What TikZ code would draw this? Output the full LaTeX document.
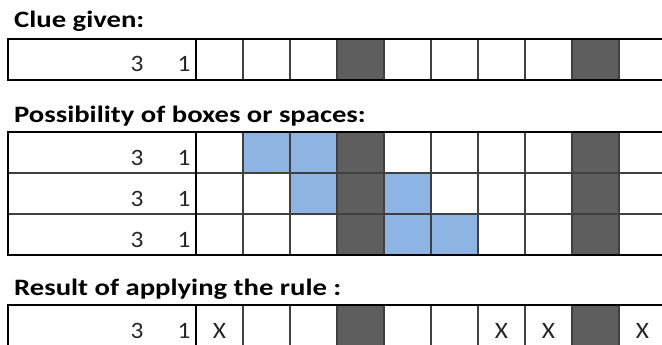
\documentclass[tikz,border=0pt]{standalone}
\usepackage{fontspec}
\setmainfont{Carlito}
\definecolor{darkcell}{HTML}{5E5E5E}
\definecolor{bluecell}{HTML}{8DB4E2}
\definecolor{numgray}{HTML}{262626}
\newcommand{\ttl}[1]{\scalebox{1.22}[1]{\fontsize{23.5}{24}\selectfont\bfseries #1}}
\newcommand{\nm}[1]{\scalebox{1.08}[1]{\fontsize{23.5}{24}\selectfont #1}}
\begin{document}
\begin{tikzpicture}[x=1pt,y=-1pt,
  title/.style={anchor=base west,inner sep=0pt},
  num/.style={anchor=base,inner sep=0pt,text=numgray},
  inner/.style={draw=black!75,line width=1.2pt},
  outer/.style={draw=black,line width=2.2pt}]
\useasboundingbox (0,0) rectangle (662,345);
\clip (0,0) rectangle (662,345);
% titles
\node[title] (t1) at (14,28) {\ttl{Clue given:}};
\node[title] (t2) at (14,122) {\ttl{Possibility of boxes or spaces:}};
\node[title] (t3) at (14,295) {\ttl{Result of applying the rule :}};
% ---- fills ----
\foreach \c in {3,8}{\fill[darkcell] ({196+47*\c},39) rectangle ({243+47*\c},80);}
\foreach \r in {0,1,2}{\foreach \c in {3,8}{\fill[darkcell] ({196+47*\c},{132+41*\r}) rectangle ({243+47*\c},{173+41*\r});}}
\fill[bluecell] (243,132) rectangle (337,173);
\fill[bluecell] (290,173) rectangle (337,214);
\fill[bluecell] (384,173) rectangle (431,214);
\fill[bluecell] (384,214) rectangle (478,255);
\foreach \c in {3,8}{\fill[darkcell] ({196+47*\c},305) rectangle ({243+47*\c},346);}
% ---- grid lines ----
\foreach \c in {1,...,9}{\draw[inner] ({196+47*\c},39) -- ({196+47*\c},80);}
\draw[outer] (8,39) rectangle (666,80);
\draw[outer] (196,39) -- (196,80);
\foreach \c in {1,...,9}{\draw[inner] ({196+47*\c},132) -- ({196+47*\c},255);}
\draw[draw=black!75,line width=2pt] (8,173) -- (666,173) (8,214) -- (666,214);
\draw[outer] (8,132) rectangle (666,255);
\draw[outer] (196,132) -- (196,255);
\foreach \c in {1,...,9}{\draw[inner] ({196+47*\c},305) -- ({196+47*\c},346);}
\draw[outer] (8,305) rectangle (666,346);
\draw[outer] (196,305) -- (196,346);
% ---- clue numbers ----
\node[num] (a3) at (137,72) {\nm{3}};
\node[num] (a1) at (184,72) {\nm{1}};
\foreach \r in {0,1,2}{
  \node[num] (b3\r) at (137,{165+41*\r}) {\nm{3}};
  \node[num] (b1\r) at (184,{165+41*\r}) {\nm{1}};
}
\node[num] (c3) at (137,338) {\nm{3}};
\node[num] (c1) at (184,338) {\nm{1}};
% ---- X marks ----
\foreach \c in {0,6,7,9}{\node[num] (x\c) at ({219.5+47*\c},338) {\nm{X}};}
\end{tikzpicture}
\end{document}
